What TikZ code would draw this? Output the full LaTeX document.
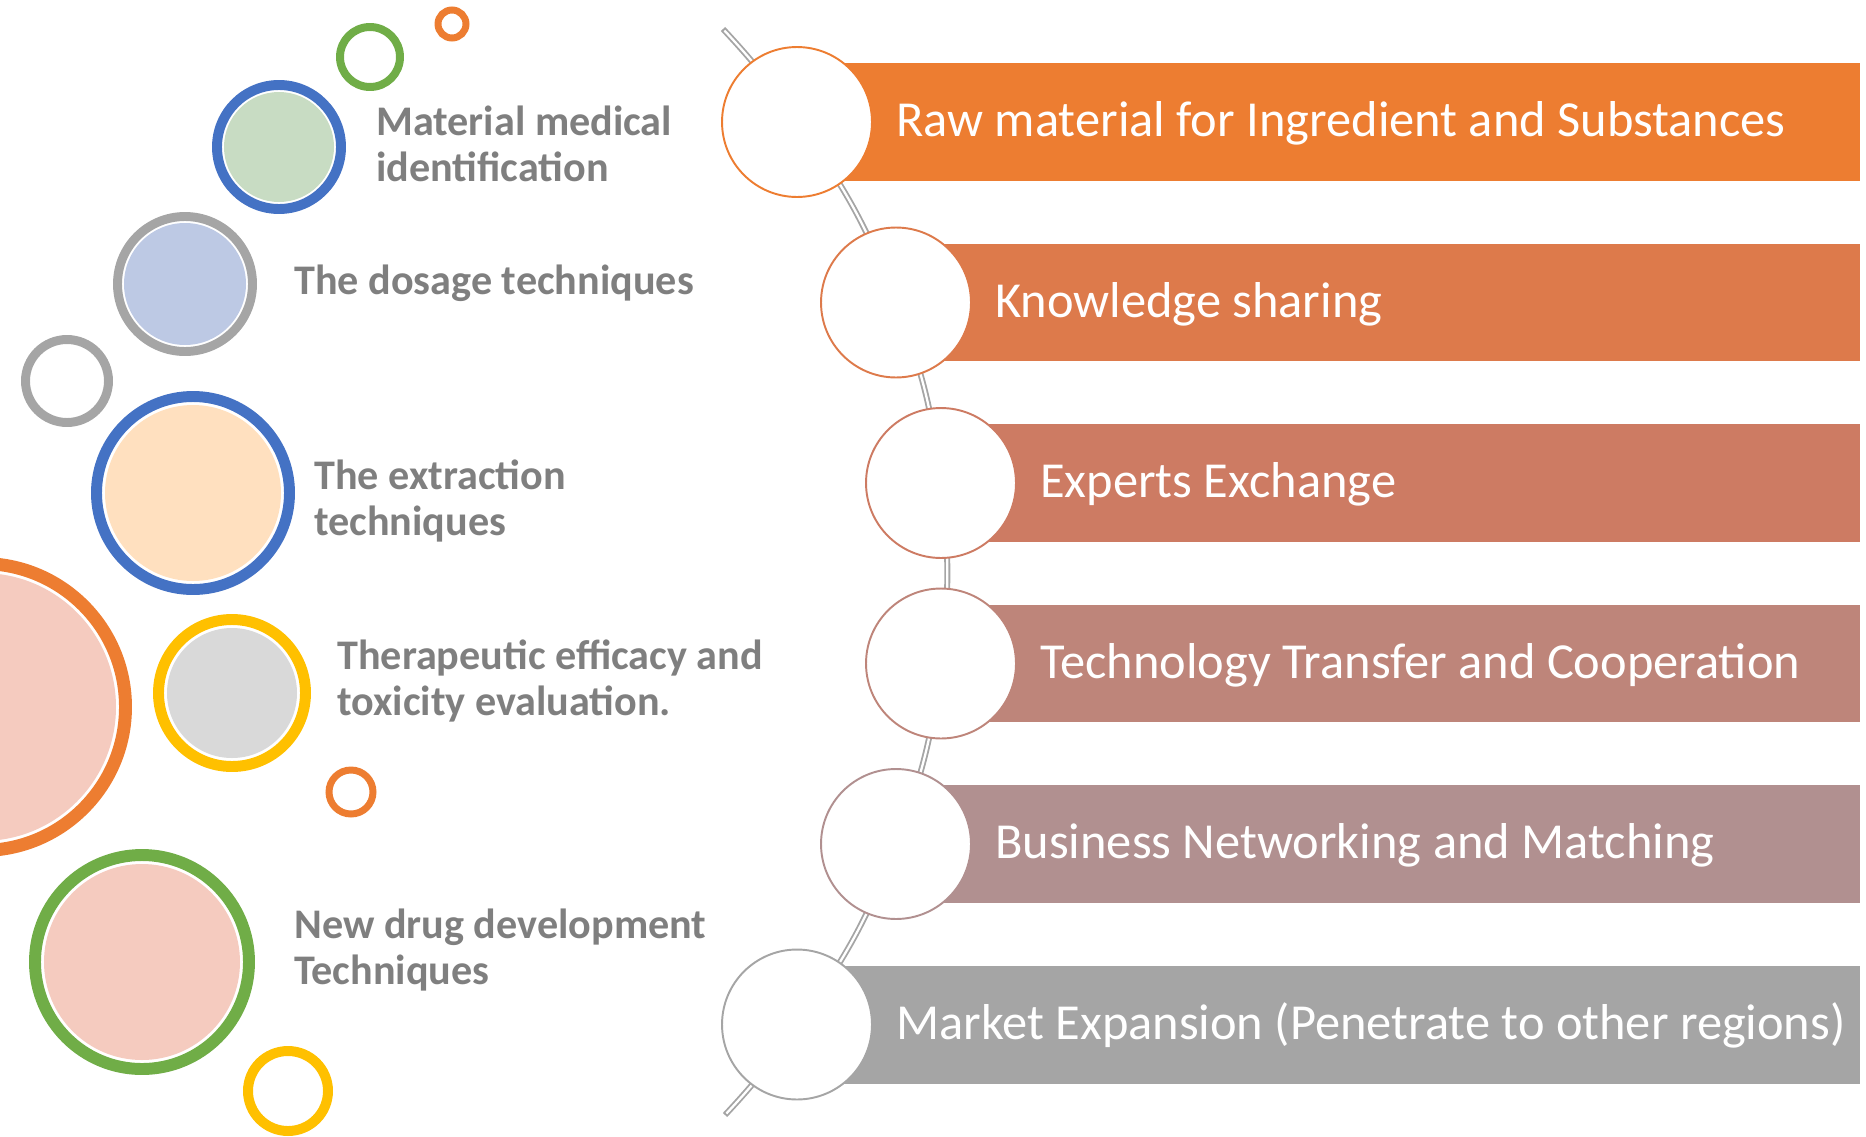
\documentclass[tikz,border=0pt]{standalone}
\usepackage{fontspec}
\setmainfont{Carlito}
\usetikzlibrary{backgrounds}

\definecolor{accblue}{HTML}{4472C4}
\definecolor{accorange}{HTML}{ED7D31}
\definecolor{accgray}{HTML}{A5A5A5}
\definecolor{accyellow}{HTML}{FFC000}
\definecolor{accgreen}{HTML}{70AD47}
\definecolor{fillgreen}{HTML}{C8DCC3}
\definecolor{filllav}{HTML}{BDC9E4}
\definecolor{fillpeach}{HTML}{FFE0BF}
\definecolor{fillgray}{HTML}{D9D9D9}
\definecolor{fillpink}{HTML}{F5CBBF}
\definecolor{labelgray}{HTML}{7F7F7F}
\definecolor{stepA}{HTML}{ED7D31}
\definecolor{stepB}{HTML}{DD7A4B}
\definecolor{stepC}{HTML}{CD7B63}
\definecolor{stepD}{HTML}{BE857A}
\definecolor{stepE}{HTML}{B19090}
\definecolor{stepF}{HTML}{A5A5A5}

% ring: centre x, centre y, stroke radius, line width, colour
\newcommand\hoop[5]{\draw[draw=#5, line width=#4] (#1,#2) circle (#3);}
% filled disc inside a ring: centre x, centre y, radius, colour
\newcommand\disc[4]{\fill[#4] (#1,#2) circle (#3);}

\begin{document}
\begin{tikzpicture}[x=0.02cm, y=-0.02cm,
  stopdot/.style={circle, fill=white, draw=#1, line width=1.1pt,
    minimum size=3cm, inner sep=0pt},
  barbox/.style={rectangle, fill=#1, minimum height=2.36cm, inner sep=0pt,
    anchor=west},
  bartext/.style={anchor=base west, inner sep=0pt, text=white,
    font=\fontsize{28.7}{34}\selectfont},
  sidetext/.style={anchor=base west, inner sep=0pt, text=labelgray, align=left,
    font=\fontsize{24}{25.9}\selectfont\bfseries},
  railout/.style={draw=accgray, line width=3.4pt},
  railin/.style={draw=white, line width=1.3pt, shorten <=1.2pt, shorten >=1.2pt}
]
\useasboundingbox (0,0) rectangle (1866,1136);
\clip (0,0) rectangle (1866,1136);

% decorative bubbles on the left
\disc{279}{147}{55}{fillgreen}
\hoop{279}{147}{62}{5.67pt}{accblue}
\hoop{370}{57}{30}{4.54pt}{accgreen}
\hoop{452}{24}{14}{3.97pt}{accorange}
\disc{185}{284}{61}{filllav}
\hoop{185}{284}{67.5}{5.1pt}{accgray}
\hoop{67}{381}{41.5}{5.1pt}{accgray}
\disc{193}{493}{88}{fillpeach}
\hoop{193}{493}{96.5}{6.24pt}{accblue}
\disc{-18}{707}{134}{fillpink}
\hoop{-18}{707}{143.5}{7.37pt}{accorange}
\disc{232}{693}{65}{fillgray}
\hoop{232}{693}{73.5}{6.24pt}{accyellow}
\hoop{351}{792}{22}{3.97pt}{accorange}
\disc{142}{962}{98}{fillpink}
\hoop{142}{962}{107}{6.8pt}{accgreen}
\hoop{288}{1091}{40}{5.67pt}{accyellow}

% left labels (the base anchor sits on the last line)
\node[sidetext] (l1) at (376,181) {Material medical\\identification};
\node[sidetext] (l2) at (294,294) {The dosage techniques};
\node[sidetext] (l3) at (314,535) {The extraction\\techniques};
\node[sidetext] (l4) at (337,715) {Therapeutic efficacy and\\toxicity evaluation.};
\node[sidetext] (l5) at (294,984) {New drug development\\Techniques};

% coloured bars
\node[barbox=stepA, minimum width=21.26cm] (b1) at (797,122) {};
\node[barbox=stepB, minimum width=19.28cm] (b2) at (896,302.5) {};
\node[barbox=stepC, minimum width=18.38cm] (b3) at (941,483) {};
\node[barbox=stepD, minimum width=18.38cm] (b4) at (941,663.5) {};
\node[barbox=stepE, minimum width=19.28cm] (b5) at (896,844) {};
\node[barbox=stepF, minimum width=21.26cm] (b6) at (797,1024.5) {};

% stations on the rail
\node[stopdot=stepA] (c1) at (797,122) {};
\node[stopdot=stepB] (c2) at (896,302.5) {};
\node[stopdot=stepC] (c3) at (941,483) {};
\node[stopdot=stepD] (c4) at (941,663.5) {};
\node[stopdot=stepE] (c5) at (896,844) {};
\node[stopdot=stepF] (c6) at (797,1024.5) {};
\coordinate (railtop) at (723,29);
\coordinate (railbot) at (725,1115);

% bar captions
\node[bartext] (t1) at ([xshift=0.46cm, yshift=-0.29cm]c1.east) {Raw material for Ingredient and Substances};
\node[bartext] (t2) at ([xshift=0.46cm, yshift=-0.29cm]c2.east) {Knowledge sharing};
\node[bartext] (t3) at ([xshift=0.46cm, yshift=-0.29cm]c3.east) {Experts Exchange};
\node[bartext] (t4) at ([xshift=0.46cm, yshift=-0.29cm]c4.east) {Technology Transfer and Cooperation};
\node[bartext] (t5) at ([xshift=0.46cm, yshift=-0.29cm]c5.east) {Business Networking and Matching};
\node[bartext] (t6) at ([xshift=0.46cm, yshift=-0.29cm]c6.east) {Market Expansion (Penetrate to other regions)};

% the curved double rail behind the stations
\def\railpath{(railtop) to[bend left=4.5] (c1.center) to[bend left=7.9] (c2.center)
  to[bend left=7.1] (c3.center) to[bend left=6.9] (c4.center)
  to[bend left=7.1] (c5.center) to[bend left=7.9] (c6.center)
  to[bend left=4.5] (railbot)}
\begin{scope}[on background layer]
  \draw[railout] \railpath;
  \draw[railin] \railpath;
\end{scope}
\end{tikzpicture}
\end{document}
